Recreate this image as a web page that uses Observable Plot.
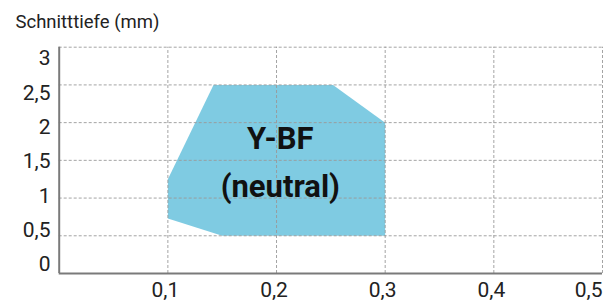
<!DOCTYPE html>
<html>
<head>
<meta charset="utf-8">
<script src="https://cdn.jsdelivr.net/npm/d3@7"></script>
<script src="https://cdn.jsdelivr.net/npm/@observablehq/plot@0.6"></script>
<style>
  html, body { margin: 0; padding: 0; background: #fff; }
  svg { overflow: visible; }
</style>
</head>
<body>
<div id="chart"></div>
<script>
// Data
const title = "Schnitttiefe (mm)";
const regionX = [0.142, 0.252, 0.3, 0.3, 0.15, 0.1, 0.1];   // Vorschub (mm)
const regionY = [2.5, 2.5, 2.0, 0.5, 0.5, 0.73, 1.25];      // Schnitttiefe (mm)
const regionLabel = ["Y-BF", "(neutral)"];
const labelAt = {x: 0.2035, y: 1.333};
const xTicks = [0.1, 0.2, 0.3, 0.4, 0.5];
const yTicks = [0, 0.5, 1, 1.5, 2, 2.5, 3];
const xTickLabels = ["0,1", "0,2", "0,3", "0,4", "0,5"];
const yTickLabels = ["0", "0,5", "1", "1,5", "2", "2,5", "3"];

const region = regionX.map((x, i) => ({x, y: regionY[i]}));
const font = "Roboto, 'Liberation Sans', sans-serif";
const fill = "#7fcbe2";
const gridColor = "#9a9a9a";
const axisColor = "#7a7a7a";

const marks = [
  Plot.line(region, {x: "x", y: "y", curve: "linear-closed", fill, stroke: "none"}),
  Plot.gridX(xTicks, {stroke: gridColor, strokeOpacity: 0.9, strokeDasharray: "3,2", y1: 0, y2: 3}),
  Plot.gridY(yTicks.filter(v => v > 0), {stroke: gridColor, strokeOpacity: 0.9, strokeDasharray: "3,2", x1: 0, x2: 0.5}),
  Plot.ruleX([0], {y1: 0, y2: 3, stroke: axisColor, strokeWidth: 2}),
  Plot.ruleY([0], {x1: 0, x2: 0.5, stroke: axisColor, strokeWidth: 2}),
  // region label
  Plot.text([regionLabel[0]], {x: () => labelAt.x, y: () => labelAt.y, text: d => d, lineAnchor: "bottom", dy: -24,
    fontSize: 31, fontWeight: "bold", fill: "#111"}),
  Plot.text([regionLabel[1]], {x: () => labelAt.x, y: () => labelAt.y, text: d => d, lineAnchor: "bottom", dy: 24,
    fontSize: 31, fontWeight: "bold", fill: "#111"}),
  // title
  Plot.text([title], {frameAnchor: "top-left", text: d => d, textAnchor: "start", lineAnchor: "bottom",
    dx: -43.7, dy: -19.7, fontSize: 18.5, fill: "#222"}),
  // x tick labels
  ...xTicks.map((v, i) => Plot.text([v], {
    x: d => d, frameAnchor: "bottom", text: () => xTickLabels[i], lineAnchor: "bottom",
    textAnchor: i === xTicks.length - 1 ? "end" : "middle",
    dx: i === xTicks.length - 1 ? 0 : -2.5, dy: 23.7, fontSize: 21, fill: "#222"
  })),
  // y tick labels
  ...yTicks.map((v, i) => Plot.text([v], {
    y: d => d, frameAnchor: "left", text: () => yTickLabels[i], textAnchor: "end",
    dx: -8.7, dy: -9 + 6.77 * v, fontSize: 21, fill: "#222"
  }))
];

const chart = Plot.plot({
  width: 614,
  height: 307,
  marginLeft: 58.7,
  marginRight: 12,
  marginTop: 46.7,
  marginBottom: 34,
  x: {domain: [0, 0.5], axis: null},
  y: {domain: [0, 3], axis: null},
  style: {fontFamily: font, background: "#fff", overflow: "visible"},
  marks
});
document.getElementById("chart").append(chart);
</script>
</body>
</html>
